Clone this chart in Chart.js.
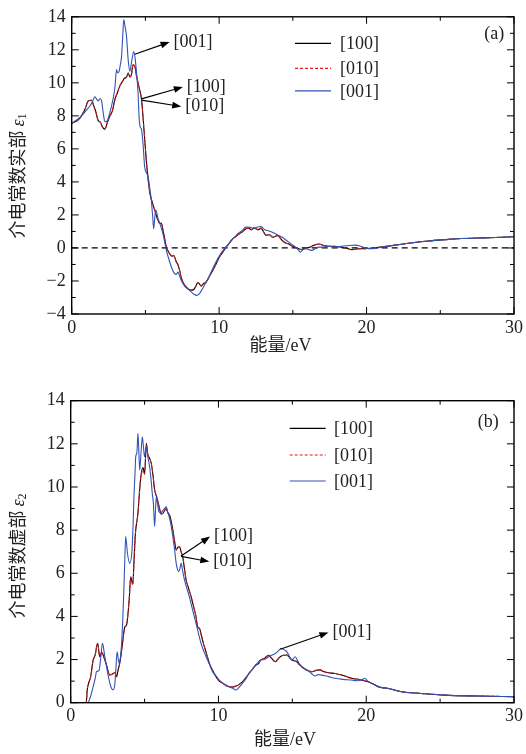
<!DOCTYPE html>
<html>
<head>
<meta charset="utf-8">
<title>介电常数</title>
<script src="https://cdn.jsdelivr.net/npm/chart.js@4.4.1/dist/chart.umd.min.js"></script>
<style>
  html, body { margin: 0; padding: 0; background: #fff; }
  canvas { display: block; }
</style>
</head>
<body>
<canvas id="chartA" width="526" height="370"></canvas>
<canvas id="chartB" width="526" height="384"></canvas>
<script>
// ---- series names
const seriesNames = ['[100]', '[010]', '[001]'];

// ---- axis ticks
const xLabelTicks = [0, 10, 20, 30];
const xMinorTicks = [5, 15, 25];
const yMajorA = [-4, -2, 0, 2, 4, 6, 8, 10, 12, 14];
const yMinorA = [-3, -1, 1, 3, 5, 7, 9, 11, 13];
const yMajorB = [0, 2, 4, 6, 8, 10, 12, 14];
const yMinorB = [1, 3, 5, 7, 9, 11, 13];

// ---- (a) real part, [100] and [010]
const energyA100 = [0,0.5,0.9,1.12,1.35,1.5,1.62,1.78,1.95,2.1,
  2.25,2.42,2.59,2.76,2.93,3.1,3.26,3.45,3.6,3.72,
  3.83,3.95,4.05,4.16,4.28,4.4,4.5,4.6,4.68,4.76,
  4.84,4.95,5.07,5.18,5.29,5.45,5.63,5.8,5.97,6.08,
  6.19,6.3,6.42,6.55,6.64,6.8,6.9,6.98,7.1,7.2,
  7.32,7.43,7.54,7.7,7.88,8.05,8.22,8.4,8.55,8.68,
  8.78,8.95,9.12,9.35,9.57,9.8,10.02,10.25,10.47,10.7,
  10.92,11.15,11.37,11.6,11.82,12.0,12.2,12.35,12.5,12.65,
  12.84,13.0,13.18,13.4,13.62,13.8,13.96,14.28,14.5,14.73,
  14.95,15.18,15.4,15.63,15.85,16.08,16.4,16.76,17.1,17.43,
  17.8,18.3,18.6,19.0,19.5,19.9,20.4,21.2,21.93,23.0,
  24.2,25.3,26.4,27.5,28.7,30];
const eps1_100 = [7.55,7.8,8.4,8.9,8.95,8.6,8.3,7.75,7.6,7.3,
  7.2,7.6,8.0,8.3,9.0,9.4,9.8,10.1,10.3,10.35,
  10.6,10.35,10.5,11.1,11.0,10.4,10.0,9.6,9.3,8.8,
  7.9,6.6,5.2,4.2,3.4,2.8,2.3,1.8,1.5,1.5,
  1.1,0.6,0.05,-0.2,-0.35,-0.5,-0.45,-0.55,-0.85,-1.0,
  -1.36,-1.8,-2.06,-2.3,-2.46,-2.55,-2.56,-2.35,-2.1,-2.2,
  -2.3,-2.15,-2.06,-1.7,-1.36,-0.95,-0.55,-0.25,0.05,0.3,
  0.55,0.7,0.86,1.0,1.16,1.2,1.1,1.2,1.16,1.1,
  1.2,1.0,0.76,0.8,0.65,0.7,0.75,0.45,0.3,0.24,
  0.1,0.03,-0.05,-0.1,0.0,0.03,0.15,0.24,0.15,0.1,
  0.1,0.05,0.0,-0.1,-0.05,-0.05,0.0,0.08,0.17,0.3,
  0.42,0.5,0.57,0.6,0.63,0.68];
const eps1_010 = [7.55,7.8,8.4,8.9,8.95,8.55,8.3,7.75,7.6,7.3,
  7.2,7.6,8.0,8.3,9.0,9.4,9.8,10.1,10.25,10.35,
  10.6,10.35,10.5,11.1,11.0,10.4,10.0,9.6,9.3,8.8,
  7.9,6.6,5.2,4.2,3.4,2.8,2.3,1.8,1.5,1.5,
  1.1,0.6,0.05,-0.2,-0.35,-0.5,-0.45,-0.55,-0.85,-1.0,
  -1.36,-1.8,-2.06,-2.3,-2.46,-2.55,-2.5,-2.35,-2.1,-2.2,
  -2.3,-2.15,-2.06,-1.7,-1.36,-0.95,-0.55,-0.25,0.05,0.3,
  0.55,0.7,0.86,1.0,1.16,1.2,1.1,1.2,1.16,1.1,
  1.2,1.0,0.76,0.8,0.65,0.7,0.75,0.45,0.3,0.24,
  0.1,0.03,-0.05,-0.1,0.0,0.03,0.15,0.24,0.15,0.1,
  0.1,0.05,0.0,-0.1,-0.05,-0.05,0.0,0.08,0.17,0.3,
  0.42,0.5,0.57,0.6,0.63,0.68];

// ---- (a) real part, [001]
const energyA001 = [0,0.56,1.0,1.24,1.45,1.57,1.7,1.8,1.92,2.03,
  2.15,2.25,2.4,2.59,2.8,2.93,3.04,3.12,3.2,3.3,
  3.38,3.46,3.53,3.62,3.72,3.83,3.94,4.05,4.21,4.3,
  4.4,4.5,4.58,4.66,4.73,4.84,4.95,5.1,5.18,5.3,
  5.4,5.5,5.56,5.63,5.7,5.85,5.97,6.19,6.3,6.42,
  6.6,6.76,6.98,7.1,7.2,7.32,7.43,7.65,7.9,8.1,
  8.3,8.45,8.67,8.85,9.0,9.25,9.46,9.7,9.9,10.1,
  10.36,10.6,10.81,11.05,11.26,11.55,11.82,12.1,12.3,12.55,
  12.84,13.1,13.38,13.6,13.82,14.05,14.28,14.5,14.73,14.95,
  15.18,15.35,15.5,15.7,15.86,16.1,16.3,16.5,16.76,17.1,
  17.4,17.8,18.3,18.8,19.23,19.6,19.9,20.4,21.2,21.93,
  23.0,24.2,25.3,26.4,27.5,28.7,30];
const eps1_001 = [7.55,7.9,8.35,8.6,8.95,9.15,9.0,8.9,9.05,8.9,
  8.1,7.65,7.7,8.2,9.0,9.7,10.8,10.6,10.65,11.1,
  11.6,12.8,13.84,13.4,12.8,11.4,10.7,11.2,11.9,11.5,
  10.6,9.4,7.8,7.3,7.2,6.3,4.9,4.5,4.3,3.6,
  2.9,1.8,1.16,1.8,2.3,1.8,1.5,0.86,0.4,-0.15,
  -0.7,-1.15,-1.56,-1.6,-1.46,-1.7,-1.96,-2.3,-2.5,-2.66,
  -2.8,-2.87,-2.76,-2.5,-2.26,-1.85,-1.46,-1.0,-0.65,-0.35,
  -0.05,0.2,0.46,0.65,0.86,1.05,1.26,1.25,1.2,1.25,
  1.3,1.1,1.03,0.95,0.86,0.75,0.65,0.5,0.35,0.2,
  0.05,-0.1,-0.25,-0.1,-0.05,-0.1,-0.15,-0.05,0.05,0.05,
  0.1,0.05,0.1,0.15,0.17,0.1,0.0,-0.05,0.08,0.17,
  0.3,0.42,0.5,0.57,0.6,0.63,0.68];

// ---- (b) imaginary part, [100] and [010]
const energyB100 = [0,1.05,1.12,1.19,1.35,1.52,1.65,1.82,1.97,2.1,
  2.2,2.42,2.65,2.87,3.0,3.1,3.2,3.32,3.48,3.66,
  3.78,3.88,3.97,4.06,4.2,4.3,4.38,4.55,4.68,4.78,
  4.89,5.0,5.12,5.22,5.34,5.45,5.56,5.68,5.84,6.01,
  6.12,6.24,6.35,6.46,6.58,6.69,6.8,6.91,7.03,7.14,
  7.25,7.36,7.47,7.58,7.7,7.81,7.98,8.15,8.32,8.48,
  8.6,8.71,8.85,8.98,9.18,9.38,9.6,9.83,10.05,10.28,
  10.5,10.73,10.95,11.18,11.4,11.62,11.85,12.07,12.3,12.53,
  12.7,12.86,13.1,13.4,13.6,13.85,14.0,14.18,14.4,14.63,
  14.8,14.97,15.3,15.5,15.76,16.0,16.32,16.6,16.88,17.1,
  17.44,17.9,18.34,18.7,19.0,19.35,19.68,20.13,20.5,20.8,
  21.5,22.38,23.72,25.3,27.54,30];
const eps2_100 = [0,0,0.6,0.85,1.2,1.98,2.2,2.75,2.13,2.35,
  2.2,1.75,1.28,1.35,1.4,1.2,1.5,1.83,2.6,3.5,
  3.6,4.14,4.9,5.84,5.5,6.8,7.85,8.78,10.0,10.63,
  10.9,10.6,12.03,11.5,11.33,11.1,10.6,9.86,9.5,9.0,
  8.75,8.78,8.9,9.0,8.8,8.7,8.4,8.0,7.5,7.08,
  7.2,7.23,7.0,6.77,6.2,5.69,5.3,4.91,4.45,3.99,
  3.5,3.45,3.1,2.75,2.3,1.83,1.5,1.21,1.0,0.9,
  0.8,0.74,0.72,0.77,0.85,0.97,1.15,1.36,1.55,1.75,
  1.8,1.98,2.05,2.2,2.05,1.9,2.0,2.13,2.2,2.21,
  2.1,1.98,1.9,1.75,1.6,1.5,1.44,1.5,1.52,1.45,
  1.39,1.35,1.28,1.2,1.13,1.1,1.05,0.97,0.85,0.74,
  0.66,0.51,0.43,0.35,0.31,0.28];
const eps2_010 = [0,0,0.6,0.85,1.2,1.98,2.2,2.75,2.13,2.35,
  2.2,1.75,1.28,1.35,1.4,1.2,1.5,1.83,2.6,3.5,
  3.6,4.14,4.9,5.8,5.45,6.8,7.85,8.78,10.0,10.63,
  10.7,10.6,11.95,11.5,11.33,11.1,10.6,9.86,9.5,9.0,
  8.75,8.78,8.9,9.0,8.8,8.7,8.4,8.0,7.5,7.08,
  7.2,7.23,7.0,6.77,6.2,5.69,5.3,4.91,4.45,3.99,
  3.5,3.45,3.1,2.75,2.3,1.83,1.5,1.21,1.0,0.9,
  0.8,0.74,0.72,0.77,0.85,0.97,1.15,1.36,1.55,1.75,
  1.8,1.98,2.05,2.2,2.05,1.9,2.0,2.13,2.2,2.21,
  2.1,1.98,1.9,1.75,1.6,1.5,1.44,1.5,1.52,1.45,
  1.39,1.35,1.28,1.2,1.13,1.1,1.05,0.97,0.85,0.74,
  0.66,0.51,0.43,0.35,0.31,0.28];

// ---- (b) imaginary part, [001]
const energyB001 = [0,1.15,1.35,1.52,1.65,1.75,1.92,2.04,2.15,2.31,
  2.42,2.53,2.65,2.76,2.87,2.98,3.06,3.14,3.27,3.43,
  3.52,3.59,3.66,3.72,3.84,3.99,4.15,4.22,4.28,4.35,
  4.4,4.48,4.55,4.62,4.67,4.76,4.85,4.93,5.0,5.12,
  5.22,5.34,5.43,5.52,5.6,5.68,5.79,5.88,5.97,6.1,
  6.24,6.35,6.46,6.58,6.69,6.8,6.91,7.03,7.14,7.22,
  7.31,7.39,7.47,7.58,7.7,7.86,8.03,8.25,8.48,8.65,
  8.82,9.0,9.16,9.38,9.6,9.83,10.05,10.28,10.5,10.73,
  10.95,11.2,11.4,11.62,11.85,12.07,12.3,12.53,12.86,13.1,
  13.4,13.6,13.85,14.05,14.25,14.45,14.63,14.8,14.97,15.2,
  15.35,15.53,15.75,15.98,16.25,16.54,16.75,16.99,17.2,17.44,
  17.89,18.4,19.0,19.4,19.68,19.9,20.1,20.36,20.7,21.0,
  21.5,22.38,23.72,25.3,27.54,30];
const eps2_001 = [0,0,0.3,0.74,1.1,1.44,1.5,2.13,2.75,2.13,
  1.7,1.28,0.9,0.67,0.59,0.82,1.6,2.36,1.83,2.6,
  3.8,5.07,6.6,7.7,6.93,6.46,7.08,8.2,9.55,10.6,
  11.4,11.6,12.49,11.5,10.79,11.6,12.33,11.8,11.4,11.87,
  11.4,10.94,10.4,9.71,9.2,8.16,9.55,9.2,8.85,8.8,
  8.92,9.0,9.08,8.8,8.55,8.2,7.7,7.1,6.46,6.2,
  6.07,6.2,6.46,6.1,5.69,5.3,4.91,4.3,3.68,3.2,
  2.75,2.4,2.13,1.8,1.44,1.25,1.05,0.92,0.82,0.74,
  0.67,0.59,0.72,0.9,1.1,1.36,1.55,1.75,1.98,2.0,
  2.13,2.2,2.28,2.4,2.52,2.45,2.36,2.15,1.98,2.13,
  1.95,1.75,1.62,1.52,1.38,1.24,1.3,1.28,1.25,1.21,
  1.13,1.08,1.05,1.02,1.05,1.13,1.0,0.9,0.8,0.71,
  0.66,0.51,0.43,0.35,0.31,0.28];

// ---- arrow labels (data coordinates)
const arrowsA = [
  { text: '[001]', from: [4.28, 11.73], to: [6.64, 12.47] },
  { text: '[100]', from: [4.73, 9.03], to: [7.54, 9.75] },
  { text: '[010]', from: [4.73, 8.95], to: [7.43, 8.57] }
];
const arrowsB = [
  { text: '[100]', from: [7.47, 6.80], to: [9.43, 7.70] },
  { text: '[010]', from: [7.47, 6.78], to: [9.38, 6.54] },
  { text: '[001]', from: [14.18, 2.48], to: [17.44, 3.26] }
];

const SERIF = '"Liberation Serif", "Noto Sans CJK SC", serif';
const TEXT = '#222';
const lineStyles = [
  { color: '#000000', dash: [] },
  { color: '#e0191c', dash: [3, 2] },
  { color: '#3253b4', dash: [] }
];

function toPoints(xs, ys) {
  return xs.map((x, i) => ({ x: x, y: ys[i] }));
}

function seriesDataset(i, xs, ys) {
  return {
    label: seriesNames[i],
    data: toPoints(xs, ys),
    borderColor: lineStyles[i].color,
    borderDash: lineStyles[i].dash,
    borderWidth: 1.1,
    pointRadius: 0,
    cubicInterpolationMode: 'monotone',
    order: 3 - i
  };
}

function drawArrow(ctx, x0, y0, x1, y1) {
  const ang = Math.atan2(y1 - y0, x1 - x0);
  const c = Math.cos(ang), s = Math.sin(ang);
  const L = 9, W = 3.4;
  ctx.beginPath();
  ctx.moveTo(x0, y0);
  ctx.lineTo(x1 - L * 0.7 * c, y1 - L * 0.7 * s);
  ctx.stroke();
  ctx.beginPath();
  ctx.moveTo(x1, y1);
  ctx.lineTo(x1 - L * c + W * s, y1 - L * s - W * c);
  ctx.lineTo(x1 - L * c - W * s, y1 - L * s + W * c);
  ctx.closePath();
  ctx.fill();
}

// frame, inward ticks, legend, arrows and titles
const panelDecor = {
  id: 'panelDecor',
  afterDraw(chart, args, o) {
    const ctx = chart.ctx;
    const a = chart.chartArea;
    const x = chart.scales.x, y = chart.scales.y;
    ctx.save();

    // ticks
    ctx.strokeStyle = '#000';
    ctx.lineWidth = 1;
    ctx.setLineDash([]);
    ctx.beginPath();
    const xt = xLabelTicks.map(v => [v, 7]).concat(xMinorTicks.map(v => [v, 4]));
    xt.forEach(([v, len]) => {
      const px = x.getPixelForValue(v);
      ctx.moveTo(px, a.bottom); ctx.lineTo(px, a.bottom - len);
      ctx.moveTo(px, a.top); ctx.lineTo(px, a.top + len);
    });
    const yt = o.yMajor.map(v => [v, 7]).concat(o.yMinor.map(v => [v, 4]));
    yt.forEach(([v, len]) => {
      const py = y.getPixelForValue(v);
      ctx.moveTo(a.left, py); ctx.lineTo(a.left + len, py);
      ctx.moveTo(a.right, py); ctx.lineTo(a.right - len, py);
    });
    ctx.stroke();

    // frame
    ctx.lineWidth = 1.4;
    ctx.strokeRect(a.left, a.top, a.right - a.left, a.bottom - a.top);

    // legend
    ctx.font = '18px ' + SERIF;
    ctx.textBaseline = 'middle';
    ctx.textAlign = 'left';
    o.legendRows.forEach((ry, i) => {
      const yy = a.top + ry;
      ctx.strokeStyle = lineStyles[i].color;
      ctx.setLineDash(lineStyles[i].dash);
      ctx.lineWidth = 1.2;
      ctx.beginPath();
      ctx.moveTo(a.left + o.legendX[0], yy);
      ctx.lineTo(a.left + o.legendX[1], yy);
      ctx.stroke();
      ctx.fillStyle = TEXT;
      ctx.fillText(seriesNames[i], a.left + o.legendX[2], yy + 1);
    });
    ctx.setLineDash([]);

    // panel tag
    ctx.textAlign = 'right';
    ctx.fillText(o.tag, a.right - o.tagPos[0], a.top + o.tagPos[1]);

    // arrows
    ctx.strokeStyle = '#000';
    ctx.fillStyle = '#000';
    ctx.lineWidth = 1.2;
    o.arrows.forEach(ar => {
      const x0 = x.getPixelForValue(ar.from[0]), y0 = y.getPixelForValue(ar.from[1]);
      const x1 = x.getPixelForValue(ar.to[0]), y1 = y.getPixelForValue(ar.to[1]);
      drawArrow(ctx, x0, y0, x1, y1);
      ctx.fillStyle = TEXT;
      ctx.textAlign = 'left';
      ctx.fillText(ar.text, x1 + 4, y1);
      ctx.fillStyle = '#000';
    });

    // x title
    ctx.fillStyle = TEXT;
    ctx.textAlign = 'center';
    ctx.font = '18px ' + SERIF;
    ctx.fillText('能量/eV', o.xTitle[0], o.xTitle[1]);

    // y title, rotated, with italic epsilon and subscript
    ctx.translate(o.yTitle[0], o.yTitle[1]);
    ctx.rotate(-Math.PI / 2);
    ctx.textAlign = 'left';
    const main = o.yText;
    ctx.font = '18px ' + SERIF;
    const w1 = ctx.measureText(main).width;
    ctx.font = 'italic 18px ' + SERIF;
    const w2 = ctx.measureText('ε').width;
    ctx.font = '12px ' + SERIF;
    const w3 = ctx.measureText(o.ySub).width;
    const start = -(w1 + 4 + w2 + w3) / 2;
    ctx.font = '18px ' + SERIF;
    ctx.fillText(main, start, 0);
    ctx.font = 'italic 18px ' + SERIF;
    ctx.fillText('ε', start + w1 + 4, 0);
    ctx.font = '12px ' + SERIF;
    ctx.fillText(o.ySub, start + w1 + 4 + w2, 4);
    ctx.restore();
  }
};

function buildPanel(canvasId, p) {
  return new Chart(document.getElementById(canvasId), {
    type: 'line',
    data: { datasets: p.datasets },
    options: {
      responsive: false,
      animation: false,
      events: [],
      layout: { padding: { left: 0, right: p.padRight, top: p.padTop, bottom: 0 } },
      plugins: {
        legend: { display: false },
        tooltip: { enabled: false },
        panelDecor: p.decor
      },
      scales: {
        x: {
          type: 'linear',
          min: 0,
          max: 30,
          afterFit: s => { s.height = p.xAxisH; },
          ticks: {
            stepSize: 10,
            autoSkip: false,
            maxRotation: 0,
            padding: 3,
            color: TEXT,
            font: { family: SERIF, size: 18 }
          },
          grid: { display: false, drawTicks: false },
          border: { display: false }
        },
        y: {
          type: 'linear',
          min: p.yMin,
          max: 14,
          afterFit: s => { s.width = p.yAxisW; },
          ticks: {
            stepSize: 2,
            autoSkip: false,
            padding: 6,
            color: TEXT,
            font: { family: SERIF, size: 18 },
            callback: v => String(v).replace('-', '−')
          },
          grid: { display: false, drawTicks: false },
          border: { display: false }
        }
      }
    },
    plugins: [panelDecor]
  });
}

buildPanel('chartA', {
  padRight: 10.3, padTop: 15.7, yAxisW: 71.7, xAxisH: 56, yMin: -4,
  datasets: [
    seriesDataset(0, energyA100, eps1_100),
    seriesDataset(1, energyA100, eps1_010),
    seriesDataset(2, energyA001, eps1_001),
    {
      label: 'zero',
      data: [{ x: 0, y: 0 }, { x: 30, y: 0 }],
      borderColor: '#000',
      borderDash: [6, 4],
      borderWidth: 1.2,
      pointRadius: 0,
      order: 5
    }
  ],
  decor: {
    yMajor: yMajorA, yMinor: yMinorA,
    legendRows: [26.5, 51.5, 74], legendX: [223.3, 259.3, 268.3],
    tag: '(a)', tagPos: [9.7, 17.3],
    arrows: arrowsA,
    xTitle: [280.5, 346.7],
    yTitle: [19, 176], yText: '介电常数实部', ySub: '1'
  }
});

buildPanel('chartB', {
  padRight: 9.7, padTop: 30.7, yAxisW: 70.7, xAxisH: 51.3, yMin: 0,
  datasets: [
    seriesDataset(0, energyB100, eps2_100),
    seriesDataset(1, energyB100, eps2_010),
    seriesDataset(2, energyB001, eps2_001)
  ],
  decor: {
    yMajor: yMajorB, yMinor: yMinorB,
    legendRows: [27.6, 54.3, 80.3], legendX: [219, 255, 263.3],
    tag: '(b)', tagPos: [15.3, 22],
    arrows: arrowsB,
    xTitle: [285, 370],
    yTitle: [19, 186], yText: '介电常数虚部', ySub: '2'
  }
});
</script>
</body>
</html>
